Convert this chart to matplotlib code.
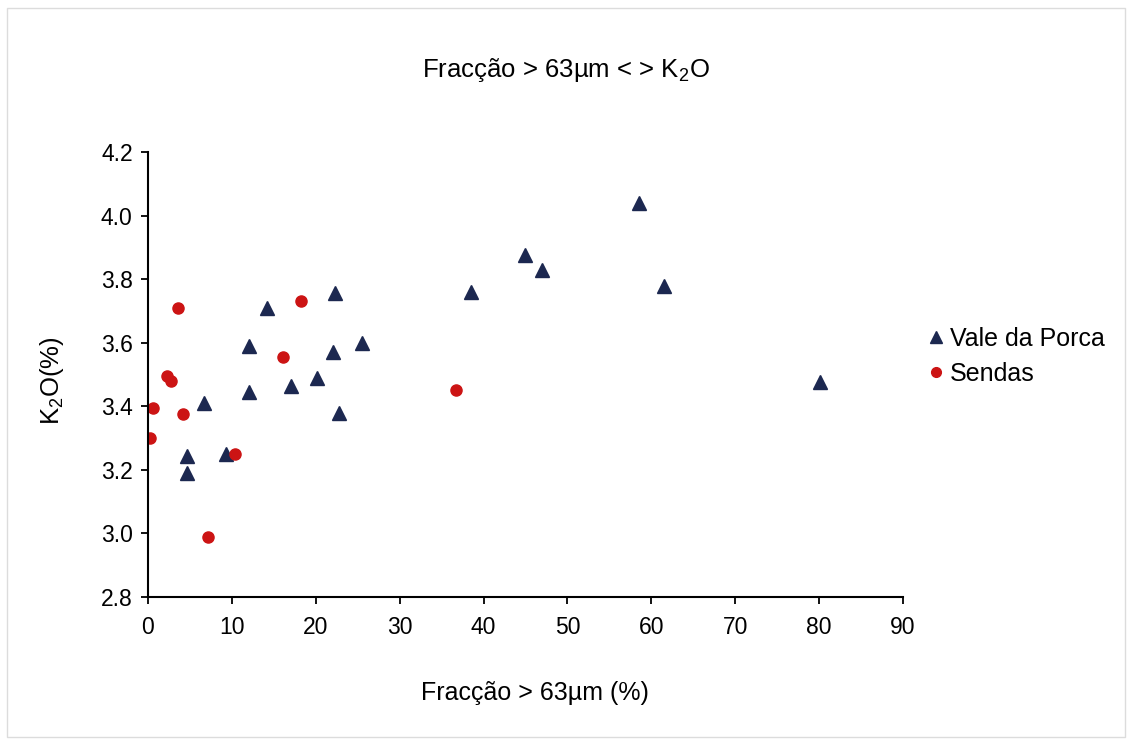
import matplotlib
matplotlib.use("Agg")
import matplotlib.pyplot as plt
from matplotlib.patches import Rectangle

plt.rcParams['font.family'] = ['Liberation Sans', 'DejaVu Sans']
plt.rcParams['mathtext.fontset'] = 'custom'
plt.rcParams['mathtext.rm'] = 'Liberation Sans'

# Vale da Porca samples
vale_x = [4.6, 4.6, 6.7, 9.3, 12.0, 12.0, 14.2, 17.0, 20.2, 22.3,
          22.0, 22.8, 25.5, 38.5, 44.9, 47.0, 58.5, 61.5, 80.1]
vale_k2o = [3.245, 3.19, 3.41, 3.25, 3.59, 3.445, 3.71, 3.465, 3.49, 3.755,
            3.57, 3.38, 3.60, 3.76, 3.875, 3.83, 4.04, 3.78, 3.475]

# Sendas samples
sendas_x = [0.25, 0.6, 2.25, 2.7, 3.6, 4.2, 7.2, 10.4, 16.1, 18.3, 36.7]
sendas_k2o = [3.30, 3.395, 3.495, 3.48, 3.71, 3.375, 2.99, 3.25, 3.555, 3.73, 3.45]

x_ticks = list(range(0, 100, 10))
y_ticks = [2.8, 3.0, 3.2, 3.4, 3.6, 3.8, 4.0, 4.2]

fig = plt.figure(figsize=(11.27, 7.40), dpi=100)
ax = fig.add_axes([0.1313, 0.1932, 0.6699, 0.6014])

ax.plot(vale_x, vale_k2o, linestyle='none', marker='^', markersize=10,
        color='#1c2850', label='Vale da Porca')
ax.plot(sendas_x, sendas_k2o, linestyle='none', marker='o', markersize=8,
        color='#cc1414', label='Sendas')

ax.set_xlim(0, 90)
ax.set_ylim(2.8, 4.2)
ax.set_xticks(x_ticks)
ax.set_yticks(y_ticks)
ax.set_yticklabels([f'{v:.1f}' for v in y_ticks])
ax.tick_params(labelsize=16.5, length=5, width=1.3, direction='out')
ax.tick_params(axis='y', pad=6)
ax.tick_params(axis='x', pad=9)

for side in ['top', 'right']:
    ax.spines[side].set_visible(False)
for side in ['left', 'bottom']:
    ax.spines[side].set_linewidth(1.5)

fig.text(0.502, 0.905, r'Fracção > 63µm < > K$_{\mathrm{2}}$O',
         ha='center', va='center', fontsize=18.5)
fig.text(0.475, 0.064, 'Fracção > 63µm (%)', ha='center', va='center', fontsize=18)
fig.text(0.046, 0.485, r'K$_{\mathrm{2}}$O(%)', ha='center', va='center',
         rotation=90, fontsize=18.5)

# legend with small markers
h1, = ax.plot([], [], linestyle='none', marker='^', markersize=8, color='#1c2850')
h2, = ax.plot([], [], linestyle='none', marker='o', markersize=7, color='#cc1414')
fig.legend([h1, h2], ['Vale da Porca', 'Sendas'], loc='upper left',
           bbox_to_anchor=(0.815, 0.572), frameon=False, fontsize=18,
           handlelength=0.6, handletextpad=0.25, labelspacing=0.45,
           borderaxespad=0)

# faint scan border
fig.patches.append(Rectangle((0.006, 0.004), 0.992, 0.985, transform=fig.transFigure,
                             fill=False, edgecolor='#dcdcdc', linewidth=1))

fig.savefig('out.png', dpi=100)
